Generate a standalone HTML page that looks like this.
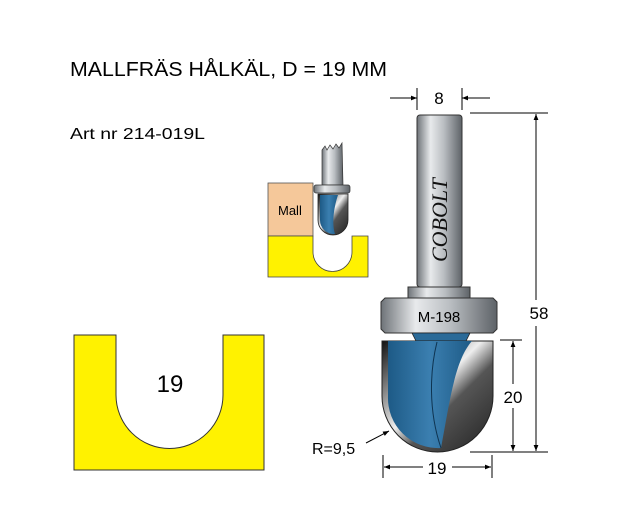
<!DOCTYPE html>
<html><head><meta charset="utf-8"><style>html,body{margin:0;padding:0;background:#fff}</style></head>
<body>
<svg width="630" height="510" viewBox="0 0 630 510" xmlns="http://www.w3.org/2000/svg" font-family="Liberation Sans, sans-serif">
<defs>
<linearGradient id="steel" x1="0" x2="1" y1="0" y2="0">
<stop offset="0" stop-color="#6e7378"/><stop offset="0.3" stop-color="#e8eaec"/><stop offset="0.6" stop-color="#b9bdc1"/><stop offset="1" stop-color="#5d6267"/>
</linearGradient>
<linearGradient id="blue" x1="0" x2="1"><stop offset="0" stop-color="#1d5a86"/><stop offset="0.5" stop-color="#3b7fb0"/><stop offset="1" stop-color="#1d5a86"/></linearGradient>
<linearGradient id="chrome" x1="0" y1="0" x2="1" y2="1"><stop offset="0" stop-color="#111"/><stop offset="0.45" stop-color="#eee"/><stop offset="0.6" stop-color="#555"/><stop offset="1" stop-color="#222"/></linearGradient>
<marker id="ar" viewBox="0 0 10 10" refX="10" refY="5" markerWidth="8" markerHeight="6" orient="auto-start-reverse"><path d="M0,1 L10,5 L0,9z" fill="#000"/></marker>
</defs>
<text x="70" y="76" font-size="20" textLength="317" lengthAdjust="spacingAndGlyphs">MALLFRÄS HÅLKÄL, D = 19 MM</text>
<text x="70" y="139" font-size="16" textLength="135" lengthAdjust="spacingAndGlyphs">Art nr 214-019L</text>

<path d="M74,335 H116 V395 A53.5,53.5 0 0 0 223,395 V335 H264 V470 H74 Z" fill="#fff200" stroke="#333" stroke-width="1"/>
<text x="170" y="392" font-size="24" text-anchor="middle">19</text>

<rect x="268" y="183" width="45" height="53" fill="#f5c89a" stroke="#555" stroke-width="0.8"/>
<text x="278" y="215" font-size="13">Mall</text>
<path d="M268,236 H313 V252 A19.5,19.5 0 0 0 352,252 V236 H368 V277 H268 Z" fill="#fff200" stroke="#444" stroke-width="0.8"/>
<path d="M322,185 V150 L325,146 327,150 330,145 333,149 336,144 339,148 342,143 343,185 Z" fill="url(#steel)" stroke="#333" stroke-width="0.7"/>
<rect x="314" y="185" width="36" height="8" rx="2" fill="url(#steel)" stroke="#333" stroke-width="0.7"/>
<path d="M318,194 H348 V220 A15,15 0 0 1 318,220 Z" fill="url(#chrome)" stroke="#222" stroke-width="0.8"/>
<path d="M320,195 H338 C333,210 332,225 335,234 A14,14 0 0 1 320,220 Z" fill="url(#blue)"/>

<rect x="417" y="115" width="45" height="172" rx="3" fill="url(#steel)" stroke="#333" stroke-width="1"/>
<text transform="translate(447,262) rotate(-90)" font-family="Liberation Serif, serif" font-style="italic" font-size="22" fill="#111">COBOLT</text>
<rect x="408" y="287" width="62" height="12" fill="url(#steel)" stroke="#333" stroke-width="1"/>
<path d="M385,298 H493 L497,302 V329 L493,333 H385 L381,329 V302 Z" fill="url(#steel)" stroke="#333" stroke-width="1"/>
<text x="439" y="322" font-size="15" text-anchor="middle">M-198</text>
<path d="M412,333 H470 L466,341 H416 Z" fill="#2a6a98" stroke="#222" stroke-width="0.8"/>
<path d="M382,341 H493 V396 A55.5,56 0 0 1 382,396 Z" fill="url(#chrome)" stroke="#222" stroke-width="1"/>
<path d="M388,341 H472 C455,360 450,400 441,448 A50,50 0 0 1 388,396 Z" fill="url(#blue)"/>
<path d="M437,342 C430,370 428,410 441,448" stroke="#0e3350" stroke-width="1" fill="none"/>

<g stroke="#000" stroke-width="1" fill="none">
<line x1="417" y1="88" x2="417" y2="110"/><line x1="462" y1="88" x2="462" y2="110"/>
<line x1="390" y1="98" x2="417" y2="98" marker-end="url(#ar)"/>
<line x1="490" y1="98" x2="462" y2="98" marker-end="url(#ar)"/>
<line x1="470" y1="113" x2="548" y2="113"/><line x1="470" y1="452" x2="548" y2="452"/>
<line x1="500" y1="340" x2="522" y2="340"/>
<line x1="536" y1="300" x2="536" y2="114" marker-end="url(#ar)"/>
<line x1="536" y1="326" x2="536" y2="451" marker-end="url(#ar)"/>
<line x1="513" y1="384" x2="513" y2="341" marker-end="url(#ar)"/>
<line x1="513" y1="408" x2="513" y2="451" marker-end="url(#ar)"/>
<line x1="383" y1="455" x2="383" y2="478"/><line x1="492" y1="455" x2="492" y2="478"/>
<line x1="423" y1="467" x2="384" y2="467" marker-end="url(#ar)"/>
<line x1="452" y1="467" x2="491" y2="467" marker-end="url(#ar)"/>
<line x1="366" y1="443" x2="389" y2="431" marker-end="url(#ar)"/>
</g>
<text x="439" y="104" font-size="17" text-anchor="middle">8</text>
<text x="539" y="319" font-size="17" text-anchor="middle">58</text>
<text x="513" y="403" font-size="17" text-anchor="middle">20</text>
<text x="437" y="474" font-size="17" text-anchor="middle">19</text>
<text x="312" y="454" font-size="16">R=9,5</text>
</svg>
</body></html>
